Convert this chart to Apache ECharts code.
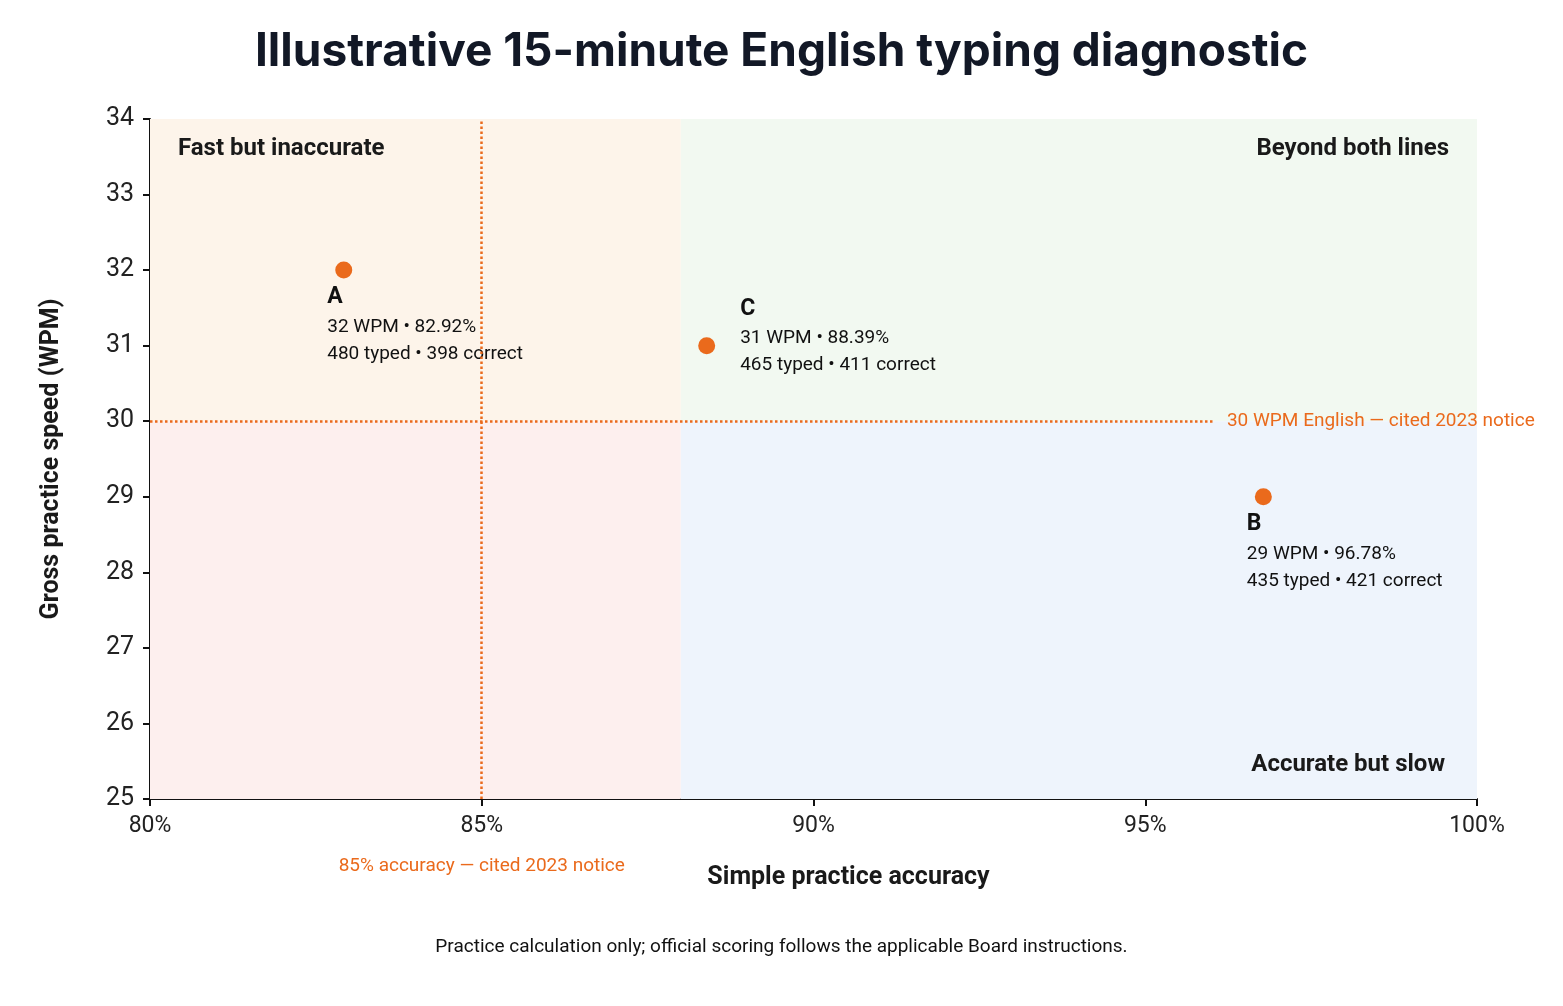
<!DOCTYPE html>
<html><head><meta charset="utf-8">
<script src="https://cdn.jsdelivr.net/npm/echarts@6/dist/echarts.min.js"></script>
<style>html,body{margin:0;background:#fff}#c{width:1563px;height:1006px}</style>
</head><body><div id="c"></div>
<script>
const names = ['A', 'C', 'B']
const accuracy = [82.92, 88.39, 96.78]
const wpm = [32, 31, 29]
const typed = [480, 465, 435]
const correct = [398, 411, 421]
const speedLine = 30
const accLine = 85
const zoneSplit = 88

const orange = '#ea6a1c'
const font = 'Roboto, "Noto Sans", sans-serif'
const labelPos = { A: [-8, 20], C: [42, -44], B: [-8, 20] }

const chart = echarts.init(document.getElementById('c'))
chart.setOption({
  animation: false,
  title: {
    text: 'Illustrative 15-minute English typing diagnostic',
    left: 'center', top: 24,
    textStyle: { fontFamily: 'Inter, Roboto, sans-serif', fontSize: 46, fontWeight: 'bold', color: '#121826' }
  },
  grid: { left: 150, right: 86, top: 119, bottom: 207 },
  xAxis: {
    type: 'value', min: 80, max: 100, interval: 5,
    name: 'Simple practice accuracy', nameLocation: 'middle', nameGap: 66,
    nameTextStyle: { fontFamily: font, fontSize: 25, fontWeight: 'bold', color: '#1a1a1a', padding: [0, 0, 0, 70] },
    axisLine: { lineStyle: { color: '#111', width: 2 } },
    axisTick: { show: true, length: 7, lineStyle: { color: '#111', width: 2 } },
    splitLine: { show: false },
    axisLabel: { fontFamily: font, fontSize: 23, color: '#222', margin: 16, formatter: v => v + '%' }
  },
  yAxis: {
    type: 'value', min: 25, max: 34, interval: 1,
    name: 'Gross practice speed (WPM)', nameLocation: 'middle', nameGap: 86,
    nameTextStyle: { fontFamily: font, fontSize: 25, fontWeight: 'bold', color: '#1a1a1a' },
    axisLine: { show: true, lineStyle: { color: '#111', width: 2 } },
    axisTick: { show: true, length: 7, lineStyle: { color: '#111', width: 2 } },
    splitLine: { show: false },
    axisLabel: { fontFamily: font, fontSize: 25, color: '#222', margin: 16 }
  },
  graphic: [
    { type: 'text', z: 100, left: 178, top: 137, style: { text: 'Fast but inaccurate', font: 'bold 24px ' + font, fill: '#1a1a1a' } },
    { type: 'text', z: 100, right: 114, top: 137, style: { text: 'Beyond both lines', font: 'bold 24px ' + font, fill: '#1a1a1a' } },
    { type: 'text', z: 100, right: 118, top: 753, style: { text: 'Accurate but slow', font: 'bold 24px ' + font, fill: '#1a1a1a' } },
    { type: 'text', z: 100, left: 'center', top: 938, style: { text: 'Practice calculation only; official scoring follows the applicable Board instructions.', font: '19px ' + font, fill: '#111' } }
  ],
  series: [{
    type: 'scatter',
    symbolSize: 17,
    itemStyle: { color: orange, opacity: 1 },
    data: names.map((n, i) => ({ value: [accuracy[i], wpm[i]], name: n, label: { position: labelPos[n] } })),
    label: {
      show: true, align: 'left', color: '#111',
      formatter: p => {
        const i = p.dataIndex
        return '{h|' + names[i] + '}\n{t|' + wpm[i] + ' WPM • ' + accuracy[i].toFixed(2) + '%}\n{t|' + typed[i] + ' typed • ' + correct[i] + ' correct}'
      },
      rich: {
        h: { fontFamily: font, fontSize: 23, fontWeight: 'bold', color: '#111', lineHeight: 32 },
        t: { fontFamily: font, fontSize: 19, color: '#111', lineHeight: 27 }
      }
    },
    markArea: {
      silent: true,
      data: [
        [{ coord: [80, speedLine], itemStyle: { color: '#fdf4ea' } }, { coord: [zoneSplit, 34] }],
        [{ coord: [80, 25], itemStyle: { color: '#fdefee' } }, { coord: [zoneSplit, speedLine] }],
        [{ coord: [zoneSplit, speedLine], itemStyle: { color: '#f2f9f1' } }, { coord: [100, 34] }],
        [{ coord: [zoneSplit, 25], itemStyle: { color: '#eef4fc' } }, { coord: [100, speedLine] }]
      ]
    },
    markLine: {
      silent: true, symbol: 'none',
      lineStyle: { color: orange, type: 'dotted', width: 2.5 },
      data: [
        [{ coord: [80, speedLine],
           label: { position: 'end', distance: 12, formatter: '30 WPM English — cited 2023 notice' } },
         { coord: [96.05, speedLine] }],
        [{ coord: [accLine, 25],
           label: { position: 'start', distance: 58, formatter: '85% accuracy — cited 2023 notice' } },
         { coord: [accLine, 34] }]
      ],
      label: { show: true, fontFamily: font, fontSize: 19, color: orange }
    }
  }]
})
</script></body></html>
